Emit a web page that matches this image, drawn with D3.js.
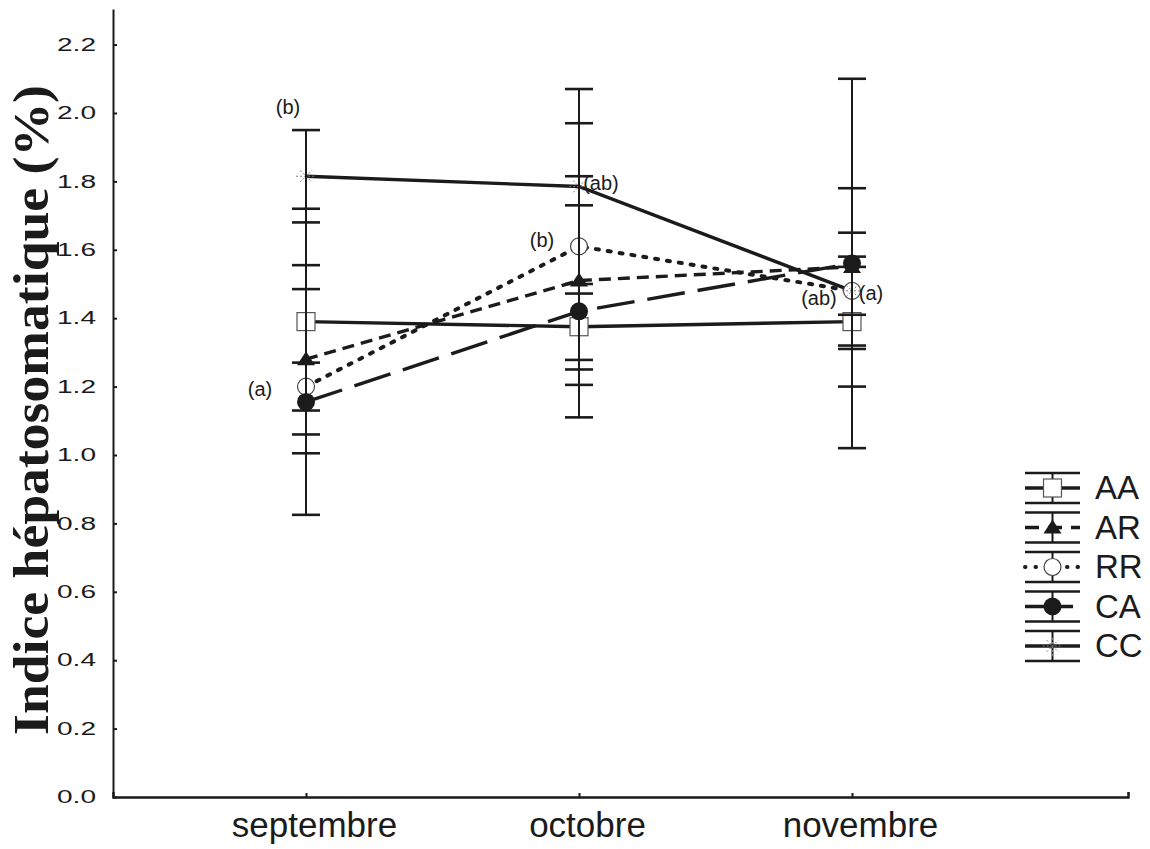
<!DOCTYPE html>
<html>
<head>
<meta charset="utf-8">
<script src="https://cdn.jsdelivr.net/npm/d3@7"></script>
<style>
  html, body { margin: 0; padding: 0; background: #fff; }
  svg { display: block; }
</style>
</head>
<body>
<svg id="chart" width="1150" height="849"></svg>
<script>
// ---- data ----
const months = ["septembre", "octobre", "novembre"];
const seriesNames = ["AA", "AR", "RR", "CA", "CC"];
const meanAA = [1.39, 1.375, 1.39];
const seAA   = [0.33, 0.097, 0.19];
const meanAR = [1.28, 1.51, 1.55];
const seAR   = [0.275, 0.305, 0.23];
const meanRR = [1.20, 1.61, 1.48];
const seRR   = [0.07, 0.36, 0.17];
const meanCA = [1.155, 1.42, 1.56];
const seCA   = [0.33, 0.31, 0.54];
const meanCC = [1.815, 1.785, 1.48];
const seCC   = [0.135, 0.285, 0.07];
const yTicks = [0, 0.2, 0.4, 0.6, 0.8, 1.0, 1.2, 1.4, 1.6, 1.8, 2.0, 2.2];
const yTitle = "Indice hépatosomatique (%)";
// significance letters: [series index, month index, text]
const letters = [
  [4, 0, "(b)"], [3, 0, "(a)"],
  [4, 1, "(ab)"], [2, 1, "(b)"],
  [1, 2, "(ab)"], [4, 2, "(a)"]
];

const means = [meanAA, meanAR, meanRR, meanCA, meanCC];
const ses = [seAA, seAR, seRR, seCA, seCC];

// ---- styles ----
const ink = "#1b1b1b";
const dashes = ["none", "12,7", "3,9", "38,13", "none"];
const letterOffsets = [[-18, -62], [-46, -6], [22, 3], [-37, 1], [-33, 38], [19, 9]];

const svg = d3.select("#chart");
const x = d3.scaleLinear().domain([-0.707, 3.011]).range([113, 1128]);
const y = d3.scaleLinear().domain([0, 2.304]).range([797, 9]);

// axes
const yAxis = d3.axisLeft(y).tickValues(yTicks).tickFormat(d3.format(".1f"))
  .tickSizeInner(-4).tickSizeOuter(0).tickPadding(17);
const gy = svg.append("g").attr("transform", "translate(113,0)").call(yAxis);
gy.select(".domain").attr("stroke", ink).attr("stroke-width", 2);
gy.selectAll(".tick line").attr("stroke", ink).attr("stroke-width", 2);
gy.selectAll(".tick text").attr("fill", ink)
  .style("font-family", "'Liberation Sans', Arial, sans-serif")
  .style("font-size", "18px")
  .attr("textLength", 39).attr("lengthAdjust", "spacingAndGlyphs");

const xAxis = d3.axisBottom(x).tickValues([0, 1, 2]).tickFormat(i => months[i])
  .tickSizeInner(-4).tickSizeOuter(-5).tickPadding(15);
const gx = svg.append("g").attr("transform", "translate(0,797)").call(xAxis);
gx.select(".domain").attr("stroke", ink).attr("stroke-width", 2.5);
gx.selectAll(".tick line").attr("stroke", ink).attr("stroke-width", 2);
gx.selectAll(".tick text").attr("fill", ink).attr("dx", 8)
  .style("font-family", "'Liberation Sans', Arial, sans-serif")
  .style("font-size", "35px");

// y title
svg.append("text")
  .attr("transform", "translate(48,410) rotate(-90)")
  .attr("text-anchor", "middle")
  .attr("fill", ink)
  .style("font-family", "'Liberation Serif', 'Times New Roman', serif")
  .style("font-weight", "bold")
  .style("font-size", "50px")
  .attr("textLength", 650).attr("lengthAdjust", "spacingAndGlyphs")
  .text(yTitle);

// lines
const line = d3.line().x((d, i) => x(i)).y(d => y(d));
means.forEach((m, s) => {
  svg.append("path").datum(m)
    .attr("d", line)
    .attr("fill", "none")
    .attr("stroke", ink)
    .attr("stroke-width", s === 2 ? 4 : 3.4)
    .attr("stroke-linecap", s === 2 ? "round" : "butt")
    .attr("stroke-dasharray", dashes[s] === "none" ? null : dashes[s]);
});

// marker drawing
function drawMarker(g, s, cx, cy) {
  if (s === 0) {
    g.append("rect").attr("x", cx - 9).attr("y", cy - 9).attr("width", 18).attr("height", 18)
      .attr("fill", "#fff").attr("stroke", "#555").attr("stroke-width", 1.2);
  } else if (s === 1) {
    g.append("path").attr("transform", `translate(${cx},${cy})`)
      .attr("d", "M0,-8 L9,6 L-9,6 Z").attr("fill", ink);
  } else if (s === 2) {
    g.append("circle").attr("cx", cx).attr("cy", cy).attr("r", 8.5)
      .attr("fill", "#fff").attr("stroke", "#444").attr("stroke-width", 1.2);
  } else if (s === 3) {
    g.append("circle").attr("cx", cx).attr("cy", cy).attr("r", 9).attr("fill", ink);
  } else {
    const a = g.append("g").attr("transform", `translate(${cx},${cy})`)
      .attr("stroke", "#777").attr("stroke-width", 1).attr("stroke-dasharray", "2,2");
    a.append("path").attr("d", d3.symbol(d3.symbolPlus, 130)());
    a.append("path").attr("d", d3.symbol(d3.symbolTimes, 90)());
  }
}

// markers
means.forEach((m, s) => {
  const g = svg.append("g");
  m.forEach((v, i) => drawMarker(g, s, x(i), y(v)));
});

// error bars
const eb = svg.append("g").attr("stroke", ink);
means.forEach((m, s) => {
  m.forEach((v, i) => {
    const lo = y(v - ses[s][i]), hi = y(v + ses[s][i]);
    eb.append("line").attr("x1", x(i)).attr("x2", x(i)).attr("y1", lo).attr("y2", hi)
      .attr("stroke-width", 2);
    [lo, hi].forEach(yy => eb.append("line")
      .attr("x1", x(i) - 14).attr("x2", x(i) + 14).attr("y1", yy).attr("y2", yy)
      .attr("stroke-width", 2.6));
  });
});

// significance letters
letters.forEach(([s, i, t], k) => {
  svg.append("text")
    .attr("x", x(i) + letterOffsets[k][0])
    .attr("y", y(means[s][i]) + letterOffsets[k][1])
    .attr("text-anchor", "middle")
    .attr("fill", ink)
    .style("font-family", "'Liberation Sans', Arial, sans-serif")
    .style("font-size", "20px")
    .text(t);
});

// legend
const ly = d3.scaleLinear().domain([0, 4]).range([488, 646]);
const lx = d3.scaleLinear().domain([0, 1]).range([1025, 1080]);
seriesNames.forEach((name, s) => {
  const g = svg.append("g");
  const cy = ly(s), cx = (lx(0) + lx(1)) / 2;
  g.append("line").attr("x1", lx(0)).attr("x2", lx(1)).attr("y1", cy).attr("y2", cy)
    .attr("stroke", ink).attr("stroke-width", s === 2 ? 4 : 3.6)
    .attr("stroke-linecap", s === 2 ? "round" : "butt")
    .attr("stroke-dasharray", s === 1 ? "14,9" : s === 2 ? "0.5,10" : s === 3 ? "20,8" : null);
  g.append("line").attr("x1", cx).attr("x2", cx).attr("y1", cy - 15).attr("y2", cy + 15)
    .attr("stroke", ink).attr("stroke-width", 2);
  [cy - 15, cy + 15].forEach(yy => g.append("line")
    .attr("x1", lx(0)).attr("x2", lx(1)).attr("y1", yy).attr("y2", yy)
    .attr("stroke", ink).attr("stroke-width", 2.6));
  drawMarker(g, s, cx, cy);
  g.append("text").attr("x", 1095).attr("y", cy + 11)
    .attr("fill", ink)
    .style("font-family", "'Liberation Sans', Arial, sans-serif")
    .style("font-size", "33px")
    .text(name);
});
</script>
</body>
</html>
